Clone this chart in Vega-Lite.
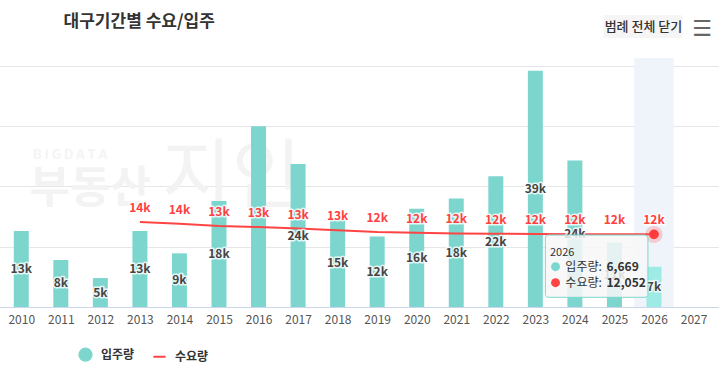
{
  "$schema": "https://vega.github.io/schema/vega-lite/v6.json",
  "width": 724,
  "height": 249,
  "autosize": {"type": "none"},
  "padding": {"top": 58, "left": 0, "right": 0, "bottom": 80},
  "background": "#ffffff",
  "config": {"font": "Noto Sans CJK KR", "view": {"stroke": null}},
  "datasets": {
    "main": [
      {"year": 2010, "supply": 12600, "demand": null},
      {"year": 2011, "supply": 7800, "demand": null},
      {"year": 2012, "supply": 4800, "demand": null},
      {"year": 2013, "supply": 12600, "demand": 14100},
      {"year": 2014, "supply": 8900, "demand": 13800},
      {"year": 2015, "supply": 17600, "demand": 13450},
      {"year": 2016, "supply": 30000, "demand": 13250},
      {"year": 2017, "supply": 23700, "demand": 13000},
      {"year": 2018, "supply": 14600, "demand": 12750},
      {"year": 2019, "supply": 11700, "demand": 12450},
      {"year": 2020, "supply": 16300, "demand": 12300},
      {"year": 2021, "supply": 18000, "demand": 12200},
      {"year": 2022, "supply": 21700, "demand": 12150},
      {"year": 2023, "supply": 39200, "demand": 12100},
      {"year": 2024, "supply": 24300, "demand": 12080},
      {"year": 2025, "supply": 10700, "demand": 12060},
      {"year": 2026, "supply": 6669, "demand": 12052}
    ]
  },
  "data": {"name": "main"},
  "layer": [
    {
      "data": {"values": [{"k": 1}]},
      "mark": {"type": "rect", "color": "#eff3fa"},
      "encoding": {
        "x": {"datum": 2025.5, "type": "quantitative", "scale": {"domain": [2009.5, 2027.5], "range": [-3.5, 718.3], "nice": false, "zero": false},
          "axis": {"values": [2010,2011,2012,2013,2014,2015,2016,2017,2018,2019,2020,2021,2022,2023,2024,2025,2026,2027], "format": "d", "title": null, "grid": false, "ticks": false, "domainColor": "#ccd6eb", "labelColor": "#555555", "labelFontSize": 12, "labelPadding": 7, "labelFlush": false, "labelOverlap": false}},
        "x2": {"datum": 2026.5},
        "y": {"datum": 41300, "type": "quantitative", "scale": {"domain": [0, 41300], "nice": false, "zero": true},
          "axis": {"values": [0, 10000, 20000, 30000, 40000], "labels": false, "ticks": false, "domain": false, "title": null, "grid": true, "gridColor": "#e6e6e6"}},
        "y2": {"datum": 0}
      }
    },
    {
      "data": {"values": [{"t": "B I G D A T A"}]},
      "mark": {"type": "text", "align": "left", "baseline": "middle", "fontSize": 13, "fontWeight": "bold", "color": "#f4f4f4"},
      "encoding": {"x": {"datum": 2010.29, "type": "quantitative"}, "y": {"datum": 25211, "type": "quantitative"}, "text": {"field": "t"}}
    },
    {
      "data": {"values": [{"t": "부동산"}]},
      "mark": {"type": "text", "align": "left", "baseline": "middle", "fontSize": 44, "fontWeight": "bold", "color": "#f3f3f3"},
      "encoding": {"x": {"datum": 2010.21, "type": "quantitative"}, "y": {"datum": 19406, "type": "quantitative"}, "text": {"field": "t"}}
    },
    {
      "data": {"values": [{"t": "지인"}]},
      "mark": {"type": "text", "align": "left", "baseline": "middle", "fontSize": 76, "color": "#f3f3f3"},
      "encoding": {"x": {"datum": 2013.55, "type": "quantitative"}, "y": {"datum": 21230, "type": "quantitative"}, "text": {"field": "t"}}
    },
    {
      "transform": [{"filter": "datum.year != 2026"}],
      "mark": {"type": "bar", "size": 15},
      "encoding": {
        "x": {"field": "year", "type": "quantitative"},
        "y": {"field": "supply", "type": "quantitative"},
        "color": {"datum": "입주량", "type": "nominal",
          "scale": {"domain": ["입주량", "수요량"], "range": ["#7dd6ce", "#ff4444"]},
          "legend": {"orient": "none", "legendX": 78, "legendY": 289, "direction": "horizontal", "title": null, "padding": 0,
            "labelFontSize": 12, "labelFontWeight": "bold", "labelColor": "#333333", "labelFont": "Noto Sans CJK KR",
            "symbolSize": 150, "columnPadding": 14, "labelOffset": 8,
            "encode": {"symbols": {"update": {
              "shape": {"signal": "datum.value === '수요량' ? 'stroke' : 'circle'"},
              "fill": {"signal": "datum.value === '수요량' ? 'transparent' : '#7dd6ce'"},
              "stroke": {"signal": "datum.value === '수요량' ? '#ff4444' : 'transparent'"},
              "strokeWidth": {"value": 2},
              "opacity": {"value": 1}
            }}}}
        }
      }
    },
    {
      "transform": [{"filter": "datum.year == 2026"}],
      "mark": {"type": "bar", "size": 15, "color": "#9debe4"},
      "encoding": {
        "x": {"field": "year", "type": "quantitative"},
        "y": {"field": "supply", "type": "quantitative"}
      }
    },
    {
      "transform": [{"filter": "datum.demand != null"}],
      "mark": {"type": "line", "strokeWidth": 2},
      "encoding": {
        "x": {"field": "year", "type": "quantitative"},
        "y": {"field": "demand", "type": "quantitative"},
        "color": {"datum": "수요량", "type": "nominal"}
      }
    },
    {
      "transform": [{"filter": "datum.year == 2026"}],
      "mark": {"type": "point", "filled": true, "size": 300, "color": "#ff4444", "opacity": 0.22},
      "encoding": {
        "x": {"field": "year", "type": "quantitative"},
        "y": {"field": "demand", "type": "quantitative"}
      }
    },
    {
      "transform": [{"filter": "datum.year == 2026"}],
      "mark": {"type": "point", "filled": true, "size": 95, "color": "#ff3b3b", "opacity": 1},
      "encoding": {
        "x": {"field": "year", "type": "quantitative"},
        "y": {"field": "demand", "type": "quantitative"}
      }
    },
    {
      "transform": [{"filter": "datum.year != 2016"}, {"calculate": "datum.supply / 2", "as": "mid"}, {"calculate": "round(datum.supply / 1000) + 'k'", "as": "lab"}],
      "mark": {"type": "text", "fontSize": 12, "fontWeight": "bold", "baseline": "middle", "color": "#ffffff", "stroke": "#ffffff", "strokeWidth": 3, "strokeJoin": "round", "strokeOpacity": 0.8},
      "encoding": {"x": {"field": "year", "type": "quantitative"}, "y": {"field": "mid", "type": "quantitative"}, "text": {"field": "lab"}}
    },
    {
      "transform": [{"filter": "datum.year != 2016"}, {"calculate": "datum.supply / 2", "as": "mid"}, {"calculate": "round(datum.supply / 1000) + 'k'", "as": "lab"}],
      "mark": {"type": "text", "fontSize": 12, "fontWeight": "bold", "baseline": "middle", "color": "#444444"},
      "encoding": {"x": {"field": "year", "type": "quantitative"}, "y": {"field": "mid", "type": "quantitative"}, "text": {"field": "lab"}}
    },
    {
      "transform": [{"filter": "datum.demand != null"}, {"calculate": "round(datum.demand / 1000) + 'k'", "as": "lab"}],
      "mark": {"type": "text", "fontSize": 12, "fontWeight": "bold", "baseline": "middle", "dy": -14, "color": "#ffffff", "stroke": "#ffffff", "strokeWidth": 3, "strokeJoin": "round", "strokeOpacity": 0.8},
      "encoding": {"x": {"field": "year", "type": "quantitative"}, "y": {"field": "demand", "type": "quantitative"}, "text": {"field": "lab"}}
    },
    {
      "transform": [{"filter": "datum.demand != null"}, {"calculate": "round(datum.demand / 1000) + 'k'", "as": "lab"}],
      "mark": {"type": "text", "fontSize": 12, "fontWeight": "bold", "baseline": "middle", "dy": -14, "color": "#ff4040"},
      "encoding": {"x": {"field": "year", "type": "quantitative"}, "y": {"field": "demand", "type": "quantitative"}, "text": {"field": "lab"}}
    },
    {
      "data": {"values": [{"k": 1}]},
      "mark": {"type": "rect", "fill": "#f7f7f7", "fillOpacity": 0.85, "stroke": "#7dd6ce", "strokeWidth": 1, "cornerRadius": 3},
      "encoding": {
        "x": {"datum": 2023.253, "type": "quantitative"}, "x2": {"datum": 2025.847},
        "y": {"datum": 11942, "type": "quantitative"}, "y2": {"datum": 1609}
      }
    },
    {
      "data": {"values": [{"t": "2026"}]},
      "mark": {"type": "text", "align": "left", "baseline": "middle", "fontSize": 11, "color": "#333333"},
      "encoding": {"x": {"datum": 2023.37, "type": "quantitative"}, "y": {"datum": 8907, "type": "quantitative"}, "text": {"field": "t"}}
    },
    {
      "data": {"values": [{"s": "입주량", "v": 6669}, {"s": "수요량", "v": 12052}]},
      "transform": [{"calculate": "datum.s == '입주량' ? 6684 : 4030", "as": "ty"}, {"calculate": "datum.s + ':'", "as": "sl"}],
      "layer": [
        {
          "mark": {"type": "point", "filled": true, "size": 80, "opacity": 1},
          "encoding": {
            "x": {"datum": 2023.51, "type": "quantitative"},
            "y": {"field": "ty", "type": "quantitative"},
            "color": {"field": "s", "type": "nominal", "legend": null}
          }
        },
        {
          "mark": {"type": "text", "align": "left", "baseline": "middle", "fontSize": 12, "color": "#333333"},
          "encoding": {
            "x": {"datum": 2023.759, "type": "quantitative"},
            "y": {"field": "ty", "type": "quantitative"},
            "text": {"field": "sl"}
          }
        },
        {
          "mark": {"type": "text", "align": "left", "baseline": "middle", "fontSize": 12, "fontWeight": "bold", "color": "#333333"},
          "encoding": {
            "x": {"datum": 2024.8, "type": "quantitative"},
            "y": {"field": "ty", "type": "quantitative"},
            "text": {"field": "v", "type": "quantitative", "format": ","}
          }
        }
      ]
    },
    {
      "data": {"values": [{"t": "대구기간별 수요/입주"}]},
      "mark": {"type": "text", "align": "left", "baseline": "middle", "fontSize": 17, "fontWeight": "bold", "color": "#333333"},
      "encoding": {"x": {"datum": 2011.07, "type": "quantitative"}, "y": {"datum": 47270, "type": "quantitative"}, "text": {"field": "t"}}
    },
    {
      "data": {"values": [{"k": 1}]},
      "mark": {"type": "rect", "fill": "#f5f5f5", "cornerRadius": 2},
      "encoding": {
        "x": {"datum": 2024.724, "type": "quantitative"}, "x2": {"datum": 2026.719},
        "y": {"datum": 48431, "type": "quantitative"}, "y2": {"datum": 44616}
      }
    },
    {
      "data": {"values": [{"t": "범례 전체 닫기"}]},
      "mark": {"type": "text", "align": "center", "baseline": "middle", "fontSize": 13, "fontWeight": 500, "color": "#333333"},
      "encoding": {"x": {"datum": 2025.734, "type": "quantitative"}, "y": {"datum": 46524, "type": "quantitative"}, "text": {"field": "t"}}
    },
    {
      "data": {"values": [{"t": "☰"}]},
      "mark": {"type": "text", "align": "center", "baseline": "middle", "fontSize": 22, "color": "#666666", "font": "DejaVu Sans"},
      "encoding": {"x": {"datum": 2027.22, "type": "quantitative"}, "y": {"datum": 46109, "type": "quantitative"}, "text": {"field": "t"}}
    }
  ]
}
